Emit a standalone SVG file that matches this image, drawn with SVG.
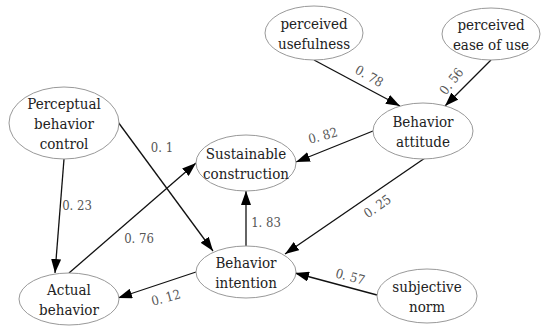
<svg xmlns="http://www.w3.org/2000/svg" width="550" height="333" viewBox="0 0 550 333">
<style>
.n ellipse{fill:#fff;stroke:#999;stroke-width:1}
.n text{font-family:'DejaVu Serif Condensed','DejaVu Serif',serif;font-stretch:condensed;font-size:15px;fill:#222;text-anchor:middle}
.e line{stroke:#111;stroke-width:1.3;marker-end:url(#ah)}
.l{font-family:'DejaVu Serif Condensed','DejaVu Serif',serif;font-stretch:condensed;font-size:13px;fill:#555;text-anchor:middle}
</style>
<defs>
<marker id="ah" markerWidth="14" markerHeight="10" refX="14" refY="5" orient="auto" markerUnits="userSpaceOnUse">
<path d="M0,0 L14,5 L0,10 Z" fill="#000"/>
</marker>
</defs>
<rect width="550" height="333" fill="#fff"/>
<g id="edges" class="e">
<line x1="314" y1="60" x2="400" y2="106"/>
<line x1="491" y1="60" x2="445" y2="106"/>
<line x1="373" y1="131" x2="296" y2="162"/>
<line x1="425" y1="158" x2="285" y2="254"/>
<line x1="246" y1="246" x2="246" y2="191"/>
<line x1="377" y1="295" x2="295" y2="273"/>
<line x1="196" y1="272" x2="118" y2="298"/>
<line x1="69" y1="273" x2="196" y2="163"/>
<line x1="118" y1="122" x2="213" y2="251"/>
<line x1="64" y1="159" x2="55" y2="273"/>
</g>
<g id="labels">
<text class="l" transform="translate(367,80) rotate(30)">0. 78</text>
<text class="l" transform="translate(455,84) rotate(-52)">0. 56</text>
<text class="l" transform="translate(324,140) rotate(-15)">0. 82</text>
<text class="l" transform="translate(380,210) rotate(-35)">0. 25</text>
<text class="l" x="266" y="227">1. 83</text>
<text class="l" transform="translate(349,281) rotate(15)">0. 57</text>
<text class="l" transform="translate(167,302) rotate(-15)">0. 12</text>
<text class="l" x="139" y="243">0. 76</text>
<text class="l" x="162" y="152">0. 1</text>
<text class="l" x="77" y="210">0. 23</text>
</g>
<g id="nodes">
<g id="pu" class="n"><ellipse cx="314" cy="33" rx="49" ry="27"/><text x="314" y="29">perceived</text><text x="314" y="49">usefulness</text></g>
<g id="peou" class="n"><ellipse cx="491" cy="34" rx="49" ry="26"/><text x="491" y="30">perceived</text><text x="491" y="50">ease of use</text></g>
<g id="ba" class="n"><ellipse cx="423" cy="131" rx="50" ry="28"/><text x="423" y="127">Behavior</text><text x="423" y="147">attitude</text></g>
<g id="sc" class="n"><ellipse cx="246" cy="163" rx="50" ry="28"/><text x="246" y="159">Sustainable</text><text x="246" y="179">construction</text></g>
<g id="pbc" class="n"><ellipse cx="64" cy="123" rx="55" ry="36"/><text x="64" y="109">Perceptual</text><text x="64" y="129">behavior</text><text x="64" y="149">control</text></g>
<g id="ab" class="n"><ellipse cx="69" cy="299" rx="50" ry="26"/><text x="69" y="295">Actual</text><text x="69" y="315">behavior</text></g>
<g id="bi" class="n"><ellipse cx="246" cy="272" rx="50" ry="26"/><text x="246" y="268">Behavior</text><text x="246" y="288">intention</text></g>
<g id="sn" class="n"><ellipse cx="427" cy="296" rx="50" ry="27"/><text x="427" y="292">subjective</text><text x="427" y="312">norm</text></g>
</g>
</svg>
